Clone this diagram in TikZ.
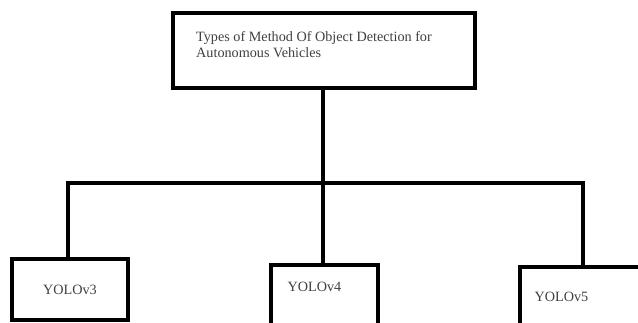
\documentclass[tikz,border=0pt]{standalone}
\usepackage{fontspec}
\setmainfont{Liberation Serif}
\begin{document}
\begin{tikzpicture}[x=1pt,y=-1pt,
  box/.style={draw=black, line width=4pt, fill=white, inner sep=0pt},
  link/.style={draw=black, line width=4pt},
  lbl/.style={text=black!75, font=\fontsize{14.2}{16.5}\selectfont, inner sep=0pt}]
\useasboundingbox (0,0) rectangle (638,323);
\clip (0,0) rectangle (638,323);
% root box
\node[box, minimum width=302pt, minimum height=75pt] (root) at (324,50.5) {};
\node[lbl, anchor=north west, align=left] (roottxt) at (196,31)
  {Types of Method Of Object Detection for\\Autonomous Vehicles};
% child boxes (lower parts run past the page edge)
\node[box, minimum width=116pt, minimum height=61pt] (v3) at (70,289.5) {};
\node[box, minimum width=107pt, minimum height=80pt] (v4) at (324.5,305) {};
\node[box, minimum width=140pt, minimum height=80pt] (v5) at (590,307) {};
\node[lbl] (t3) at (70,290) {YOLOv3};
\node[lbl] (t4) at (314.5,287) {YOLOv4};
\node[lbl] (t5) at (561.5,297) {YOLOv5};
% tree connectors
\coordinate (jl) at (68,183);
\coordinate (jm) at (322.5,183);
\coordinate (jr) at (583,183);
\draw[link] (root.south -| jm) -- (jm);
\draw[link, line cap=rect] (jl) -- (jr);
\draw[link] (jl) -- (jl |- v3.north);
\draw[link] (jm) -- (jm |- v4.north);
\draw[link] (jr) -- (jr |- v5.north);
\end{tikzpicture}
\end{document}
